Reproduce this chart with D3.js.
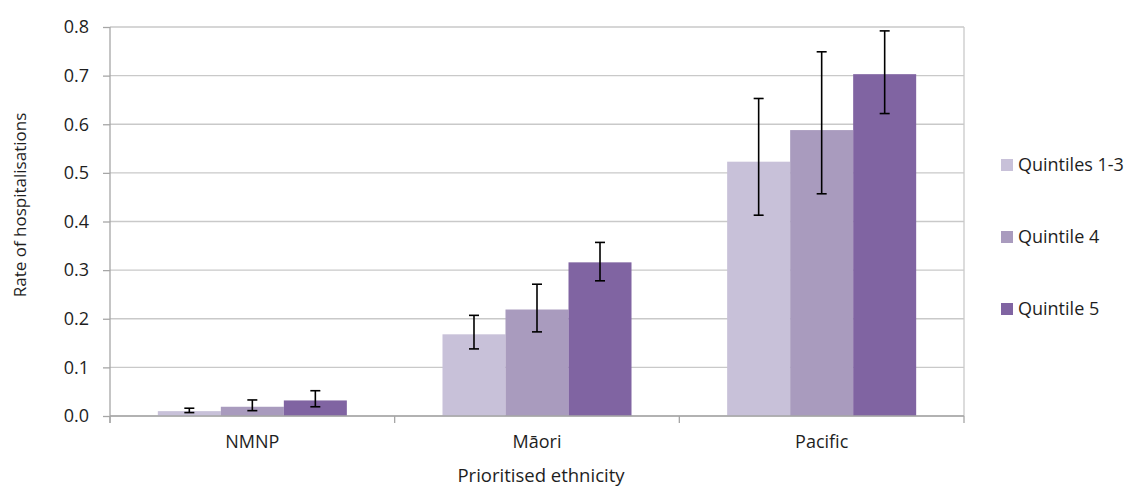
<!DOCTYPE html>
<html><head><meta charset="utf-8">
<script src="https://cdn.jsdelivr.net/npm/d3@7/dist/d3.min.js"></script>
<style>body{margin:0;background:#fff;font-family:"Open Sans",sans-serif;}</style>
</head><body><svg id="c" width="1132" height="487"></svg>
<script>
const categories = ["NMNP", "Māori", "Pacific"];
const series = ["Quintiles 1-3", "Quintile 4", "Quintile 5"];
const colors = ["#c8c1d9", "#a99bbe", "#8064a2"];
const values = [
  [0.010, 0.019, 0.032],
  [0.168, 0.219, 0.316],
  [0.523, 0.588, 0.703]
];
const lower = [
  [0.007, 0.011, 0.019],
  [0.138, 0.173, 0.278],
  [0.413, 0.457, 0.622]
];
const upper = [
  [0.016, 0.033, 0.052],
  [0.207, 0.271, 0.357],
  [0.653, 0.749, 0.792]
];
const yTicks = [0, 0.1, 0.2, 0.3, 0.4, 0.5, 0.6, 0.7, 0.8];

const svg = d3.select("#c");
const L = 110, R = 964, T = 27, B = 416;
const x0 = d3.scaleBand().domain(categories).range([L, R]).padding(0);
const groupW = x0.bandwidth() * 0.664;
const x1 = d3.scaleBand().domain(series).range([0, groupW]).padding(0);
const y = d3.scaleLinear().domain([0, 0.8]).range([B, T]);
const txt = "#1e1e1e";

// gridlines
svg.append("g").selectAll("line").data(yTicks).join("line")
  .attr("x1", L).attr("x2", R).attr("y1", d => y(d)).attr("y2", d => y(d))
  .attr("stroke", "#c9c9c9").attr("stroke-width", 1.3);
svg.append("line").attr("x1", R).attr("x2", R).attr("y1", T).attr("y2", B)
  .attr("stroke", "#c9c9c9").attr("stroke-width", 1.3);

// bars
const g = svg.append("g").selectAll("g").data(categories).join("g")
  .attr("transform", (d) => `translate(${x0(d) + (x0.bandwidth() - groupW) / 2},0)`);
g.selectAll("rect").data((d, i) => series.map((s, j) => ({s, j, v: values[i][j]})))
  .join("rect")
  .attr("x", d => x1(d.s)).attr("width", x1.bandwidth())
  .attr("y", d => y(d.v)).attr("height", d => y(0) - y(d.v))
  .attr("fill", d => colors[d.j]);

// error bars
const eb = g.selectAll("g.eb").data((d, i) => series.map((s, j) => ({s, j, lo: lower[i][j], hi: upper[i][j]})))
  .join("g").attr("class", "eb")
  .attr("transform", d => `translate(${x1(d.s) + x1.bandwidth() / 2},0)`);
eb.append("line").attr("x1", 0).attr("x2", 0).attr("y1", d => y(d.lo)).attr("y2", d => y(d.hi))
  .attr("stroke", "#000").attr("stroke-width", 1.6);
eb.append("line").attr("x1", -5).attr("x2", 5).attr("y1", d => y(d.lo)).attr("y2", d => y(d.lo))
  .attr("stroke", "#000").attr("stroke-width", 1.6);
eb.append("line").attr("x1", -5).attr("x2", 5).attr("y1", d => y(d.hi)).attr("y2", d => y(d.hi))
  .attr("stroke", "#000").attr("stroke-width", 1.6);

// y axis
const yAxis = svg.append("g").attr("transform", `translate(${L},0)`)
  .call(d3.axisLeft(y).tickValues(yTicks).tickFormat(d3.format(".1f")).tickSize(7).tickSizeOuter(0));
yAxis.select(".domain").remove();
yAxis.selectAll(".tick line").attr("stroke", "#a6a6a6").attr("stroke-width", 1.3);
yAxis.selectAll(".tick text").attr("x", -21).attr("font-size", 18).attr("fill", txt)
  .attr("font-family", "Open Sans, sans-serif");
svg.append("line").attr("x1", L).attr("x2", L).attr("y1", T).attr("y2", B + 7)
  .attr("stroke", "#a6a6a6").attr("stroke-width", 1.3);

// x axis
svg.append("line").attr("x1", L).attr("x2", R).attr("y1", B).attr("y2", B)
  .attr("stroke", "#a6a6a6").attr("stroke-width", 1.3);
const bounds = categories.map(c => x0(c)).concat([R]);
svg.append("g").selectAll("line").data(bounds).join("line")
  .attr("x1", d => d).attr("x2", d => d).attr("y1", B).attr("y2", B + 7)
  .attr("stroke", "#a6a6a6").attr("stroke-width", 1.3);
svg.append("g").selectAll("text").data(categories).join("text")
  .attr("x", d => x0(d) + x0.bandwidth() / 2).attr("y", 448)
  .attr("text-anchor", "middle").attr("font-size", 18).attr("fill", txt).text(d => d);

// titles
svg.append("text").attr("x", 541).attr("y", 482).attr("text-anchor", "middle")
  .attr("font-size", 18.5).attr("fill", txt).text("Prioritised ethnicity");
svg.append("text").attr("transform", `translate(26,205) rotate(-90)`)
  .attr("text-anchor", "middle").attr("font-size", 17).attr("fill", txt).text("Rate of hospitalisations");

// legend
const lg = svg.append("g").selectAll("g").data(series).join("g")
  .attr("transform", (d, i) => `translate(1001,${165 + i * 72})`);
lg.append("rect").attr("x", 0).attr("y", -6).attr("width", 12).attr("height", 12)
  .attr("fill", (d, i) => colors[i]);
lg.append("text").attr("x", 17).attr("y", 0).attr("dy", "0.35em")
  .attr("font-size", 18).attr("fill", txt).text(d => d);
</script></body></html>
